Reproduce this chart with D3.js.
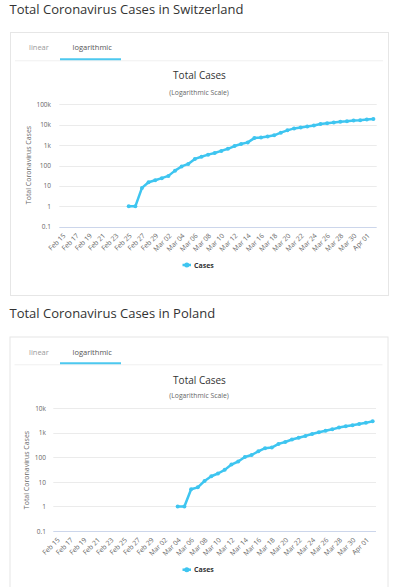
<!DOCTYPE html>
<html>
<head>
<meta charset="utf-8">
<script src="https://cdn.jsdelivr.net/npm/d3@7"></script>
<style>
  html, body { margin: 0; padding: 0; background: #fff; }
  svg { display: block; font-family: "Open Sans", sans-serif; }
</style>
</head>
<body>
<svg id="page" width="400" height="587"></svg>
<script>
// ---------- DATA ----------
const dates = ["Feb 15","Feb 16","Feb 17","Feb 18","Feb 19","Feb 20","Feb 21","Feb 22","Feb 23","Feb 24",
  "Feb 25","Feb 26","Feb 27","Feb 28","Feb 29","Mar 01","Mar 02","Mar 03","Mar 04","Mar 05","Mar 06",
  "Mar 07","Mar 08","Mar 09","Mar 10","Mar 11","Mar 12","Mar 13","Mar 14","Mar 15","Mar 16","Mar 17",
  "Mar 18","Mar 19","Mar 20","Mar 21","Mar 22","Mar 23","Mar 24","Mar 25","Mar 26","Mar 27","Mar 28",
  "Mar 29","Mar 30","Mar 31","Apr 01","Apr 02"];

const tickLabels = ["Feb 15","Feb 17","Feb 19","Feb 21","Feb 23","Feb 25","Feb 27","Feb 29","Mar 02",
  "Mar 04","Mar 06","Mar 08","Mar 10","Mar 12","Mar 14","Mar 16","Mar 18","Mar 20","Mar 22","Mar 24",
  "Mar 26","Mar 28","Mar 30","Apr 01"];

const switzerlandCases = [null,null,null,null,null,null,null,null,null,null,
  1,1,8,15,19,24,31,56,90,120,210,
  270,340,410,520,660,900,1139,1359,2200,2330,2650,
  3010,4075,5294,6575,7245,8060,9117,10897,11811,12928,14076,
  14829,15922,16605,17768,18827];

const polandCases = [null,null,null,null,null,null,null,null,null,null,
  null,null,null,null,null,null,null,null,1,1,5,
  6,11,17,22,31,51,68,104,125,177,238,
  251,355,425,536,634,749,901,1051,1221,1389,1638,
  1862,2055,2311,2554,2946];

const switzerlandTicks = [0.1, 1, 10, 100, 1000, 10000, 100000];
const polandTicks = [0.1, 1, 10, 100, 1000, 10000];
const tickFmt = v => v >= 1000 ? (v / 1000) + "k" : String(v);

const lineColor = "#3ec5f0";

const svg = d3.select("#page");

function drawPanel(cfg) {
  const g = svg.append("g");
  // page heading
  g.append("text").attr("x", 9.5).attr("y", cfg.headingY)
    .attr("font-size", 13).attr("fill", "#333").text(cfg.heading);
  // box
  g.append("rect").attr("x", cfg.box[0] + 0.5).attr("y", cfg.box[1] + 0.5)
    .attr("width", cfg.box[2]).attr("height", cfg.box[3])
    .attr("fill", "#fff").attr("stroke", "#e6e6e6");
  // tabs
  g.append("text").attr("x", 29).attr("y", cfg.tabY).attr("font-size", 7.5)
    .attr("fill", "#9a9a9a").text("linear");
  g.append("text").attr("x", 72.5).attr("y", cfg.tabY).attr("font-size", 7.5)
    .attr("fill", "#555").text("logarithmic");
  g.append("line").attr("x1", cfg.box[0] + 5).attr("x2", cfg.box[0] + cfg.box[2] - 5)
    .attr("y1", cfg.tabLineY + 1.5).attr("y2", cfg.tabLineY + 1.5)
    .attr("stroke", "#f0f0f0").attr("stroke-width", 1);
  g.append("line").attr("x1", 60).attr("x2", 121)
    .attr("y1", cfg.tabLineY).attr("y2", cfg.tabLineY)
    .attr("stroke", "#4cc8ef").attr("stroke-width", 2);
  // chart titles
  g.append("text").attr("x", 199.5).attr("y", cfg.titleY).attr("text-anchor", "middle")
    .attr("font-size", 10).attr("fill", "#333").text("Total Cases");
  g.append("text").attr("x", 199).attr("y", cfg.subtitleY).attr("text-anchor", "middle")
    .attr("font-size", 6.8).attr("fill", "#666").text("(Logarithmic Scale)");

  const x = d3.scalePoint().domain(dates).range([cfg.plot[0], cfg.plot[1]]).padding(0.5);
  const y = d3.scaleLog().domain([0.1, cfg.ticks[cfg.ticks.length - 1]])
    .range([cfg.plotBottom, cfg.plotTop]);

  // gridlines
  g.append("g").selectAll("line").data(cfg.ticks).join("line")
    .attr("x1", cfg.plot[0]).attr("x2", cfg.plot[1])
    .attr("y1", d => Math.round(y(d)) + 0.5).attr("y2", d => Math.round(y(d)) + 0.5)
    .attr("stroke", (d, i) => i === 0 ? "#ccd6eb" : "#ebebeb").attr("stroke-width", 1);

  // y axis labels
  const yAxis = d3.axisLeft(y).tickValues(cfg.ticks).tickFormat(tickFmt).tickSize(0).tickPadding(0);
  const ya = g.append("g").attr("transform", `translate(${cfg.yLabelX},0)`).call(yAxis);
  ya.select(".domain").remove();
  ya.selectAll("text").attr("font-size", 6.5).attr("fill", "#666")
    .attr("font-family", "Open Sans, sans-serif");

  // y axis title
  g.append("text").attr("transform", `translate(${cfg.yTitleX},${cfg.yTitleY}) rotate(-90)`)
    .attr("text-anchor", "middle").attr("font-size", 7).attr("fill", "#666")
    .text("Total Coronavirus Cases");

  // x axis labels
  const xAxis = d3.axisBottom(x).tickValues(tickLabels).tickSize(0).tickPadding(0);
  const xa = g.append("g").attr("transform", `translate(0,${cfg.plotBottom})`).call(xAxis);
  xa.select(".domain").remove();
  xa.selectAll("text").attr("font-size", 6.8).attr("fill", "#666")
    .attr("font-family", "Open Sans, sans-serif")
    .attr("text-anchor", "end").attr("dy", null)
    .attr("transform", "translate(3,9.5) rotate(-45)");

  // line
  const data = dates.map((d, i) => ({ d, v: cfg.values[i] }));
  const line = d3.line().defined(p => p.v != null).x(p => x(p.d)).y(p => y(p.v));
  g.append("path").datum(data).attr("d", line).attr("fill", "none")
    .attr("stroke", lineColor).attr("stroke-width", 2.5).attr("stroke-linejoin", "round");
  g.append("g").selectAll("circle").data(data.filter(p => p.v != null)).join("circle")
    .attr("cx", p => x(p.d)).attr("cy", p => y(p.v)).attr("r", 2).attr("fill", lineColor);

  // legend
  const lg = g.append("g").attr("transform", `translate(0,${cfg.legendY})`);
  lg.append("line").attr("x1", 182.5).attr("x2", 191).attr("y1", 0).attr("y2", 0)
    .attr("stroke", lineColor).attr("stroke-width", 2.5);
  lg.append("circle").attr("cx", 186.8).attr("cy", 0).attr("r", 2.5).attr("fill", lineColor);
  lg.append("text").attr("x", 194).attr("y", 2.5).attr("font-size", 7).attr("font-weight", "bold")
    .attr("fill", "#333").text("Cases");
}

drawPanel({
  heading: "Total Coronavirus Cases in Switzerland",
  headingY: 14,
  box: [10, 32, 378, 263],
  tabY: 50,
  tabLineY: 59.3,
  titleY: 79,
  subtitleY: 95,
  plot: [59.3, 376.7],
  plotTop: 104.3,
  plotBottom: 226.7,
  ticks: switzerlandTicks,
  yLabelX: 51,
  yTitleX: 30.5,
  yTitleY: 165,
  values: switzerlandCases,
  legendY: 265
});

drawPanel({
  heading: "Total Coronavirus Cases in Poland",
  headingY: 318,
  box: [9.5, 336.5, 378, 260],
  tabY: 354.5,
  tabLineY: 363.3,
  titleY: 383.5,
  subtitleY: 398,
  plot: [53.3, 376],
  plotTop: 408.3,
  plotBottom: 531,
  ticks: polandTicks,
  yLabelX: 46,
  yTitleX: 29,
  yTitleY: 470,
  values: polandCases,
  legendY: 569.7
});
</script>
</body>
</html>
